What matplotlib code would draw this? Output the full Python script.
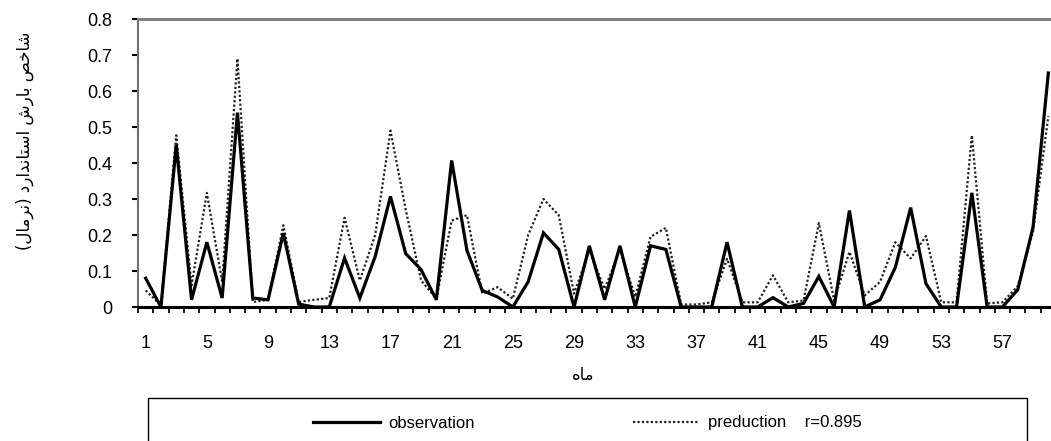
import matplotlib
matplotlib.use("Agg")
import matplotlib.pyplot as plt
from matplotlib.patches import Rectangle

# -----------------------------
# data
# -----------------------------
months = list(range(1, 61))

observation = [0.08, 0.0, 0.45, 0.02, 0.18, 0.025, 0.54, 0.025, 0.02, 0.205,
               0.008, 0.0, 0.0, 0.136, 0.025, 0.14, 0.307, 0.148, 0.104, 0.02,
               0.407, 0.157, 0.046, 0.028, 0.0, 0.07, 0.206, 0.16, 0.0, 0.17,
               0.02, 0.17, 0.0, 0.17, 0.16, 0.0, 0.0, 0.0, 0.18, 0.0,
               0.0, 0.026, 0.0, 0.01, 0.085, 0.0, 0.268, 0.0, 0.02, 0.11,
               0.276, 0.065, 0.0, 0.0, 0.317, 0.0, 0.0, 0.048, 0.222, 0.65]

production = [0.046, 0.005, 0.477, 0.06, 0.317, 0.07, 0.69, 0.014, 0.02, 0.227,
              0.014, 0.02, 0.025, 0.248, 0.074, 0.2, 0.49, 0.27, 0.074, 0.023,
              0.24, 0.255, 0.037, 0.055, 0.023, 0.2, 0.3, 0.255, 0.037, 0.157,
              0.05, 0.16, 0.028, 0.195, 0.22, 0.007, 0.007, 0.013, 0.134, 0.013,
              0.013, 0.088, 0.013, 0.018, 0.233, 0.018, 0.153, 0.032, 0.07, 0.18,
              0.135, 0.197, 0.013, 0.013, 0.477, 0.01, 0.013, 0.058, 0.21, 0.53]

xtick_months = list(range(1, 60, 4))
yticks = [0, 0.1, 0.2, 0.3, 0.4, 0.5, 0.6, 0.7, 0.8]
ytick_labels = ["0", "0.1", "0.2", "0.3", "0.4", "0.5", "0.6", "0.7", "0.8"]

# Persian titles, written in visual order with presentation forms
# (matplotlib does no Arabic shaping / bidi)
# "شاخص بارش استاندارد (نرمال)"
w_normal = "\uFEE7\uFEAE\uFEE3\uFE8E\uFEDD"                       # نرمال
w_standard = "\uFE8D\uFEB3\uFE98\uFE8E\uFEE7\uFEAA\uFE8D\uFEAD\uFEA9"  # استاندارد
w_barsh = "\uFE91\uFE8E\uFEAD\uFEB5"                             # بارش
w_shakhes = "\uFEB7\uFE8E\uFEA7\uFEBA"                           # شاخص
ylabel_txt = ("(" + w_normal[::-1] + ") " + w_standard[::-1] + " "
              + w_barsh[::-1] + " " + w_shakhes[::-1])
xlabel_txt = "\uFEE3\uFE8E\uFEE9"[::-1]                          # ماه

obs_label = "observation"
prod_label = "preduction    r=0.895"

# -----------------------------
# figure
# -----------------------------
plt.rcParams["font.family"] = ["Liberation Sans", "DejaVu Sans"]

W, H = 1051, 441
fig = plt.figure(figsize=(W / 100, H / 100), dpi=100)

# plot area in pixels: left 138, right 1056 (a bit past the edge), top 19, bottom 307
ax = fig.add_axes([138 / W, 1 - 307 / H, (1056 - 138) / W, (307 - 19) / H])

l_obs, = ax.plot(months, observation, color="black", lw=2.3,
                 solid_joinstyle="miter", label=obs_label, zorder=3)
l_prod, = ax.plot(months, production, color="#222222", lw=1.6,
                  linestyle=(0, (1, 1)), label=prod_label, zorder=2)

ax.set_xlim(0.5, 60.5)
ax.set_ylim(0, 0.8)

ax.set_yticks(yticks)
ax.set_yticklabels(ytick_labels)
ax.set_xticks(xtick_months)
ax.set_xticklabels([str(m) for m in xtick_months])
ax.set_xticks([m + 0.5 for m in range(0, 61)], minor=True)

ax.tick_params(axis="y", direction="out", length=4.5, width=1.5,
               labelsize=13, pad=14, colors="black")
ax.tick_params(axis="x", which="major", length=0, labelsize=13, pad=20)
ax.tick_params(axis="x", which="minor", direction="out", length=4.5, width=1.3)

for side in ["right"]:
    ax.spines[side].set_visible(False)
ax.spines["top"].set_color("#808080")
ax.spines["top"].set_linewidth(2.2)
ax.spines["left"].set_color("#707070")
ax.spines["left"].set_linewidth(1.5)
ax.spines["bottom"].set_color("black")
ax.spines["bottom"].set_linewidth(2.2)

# axis titles
fig.text(25 / W, 1 - 141 / H, ylabel_txt, rotation=90, ha="center", va="center",
         fontsize=12, family=["DejaVu Sans"])
fig.text(583 / W, 1 - 375 / H, xlabel_txt, ha="center", va="center",
         fontsize=12, family=["DejaVu Sans"])

# legend box (runs off the bottom edge like the reference)
box = Rectangle((148 / W, -0.05), (1027 - 148) / W, (1 - 398 / H) + 0.05,
                transform=fig.transFigure, fill=False, edgecolor="black", lw=1.0)
fig.patches.append(box)

fig.legend(handles=[l_obs, l_prod], loc="center left",
           bbox_to_anchor=(313 / W, 1 - 423 / H), ncol=2, frameon=False,
           fontsize=12, handlelength=4.0, handletextpad=0.5,
           columnspacing=9.5, borderpad=0, borderaxespad=0)

fig.savefig("out.png", dpi=100)
